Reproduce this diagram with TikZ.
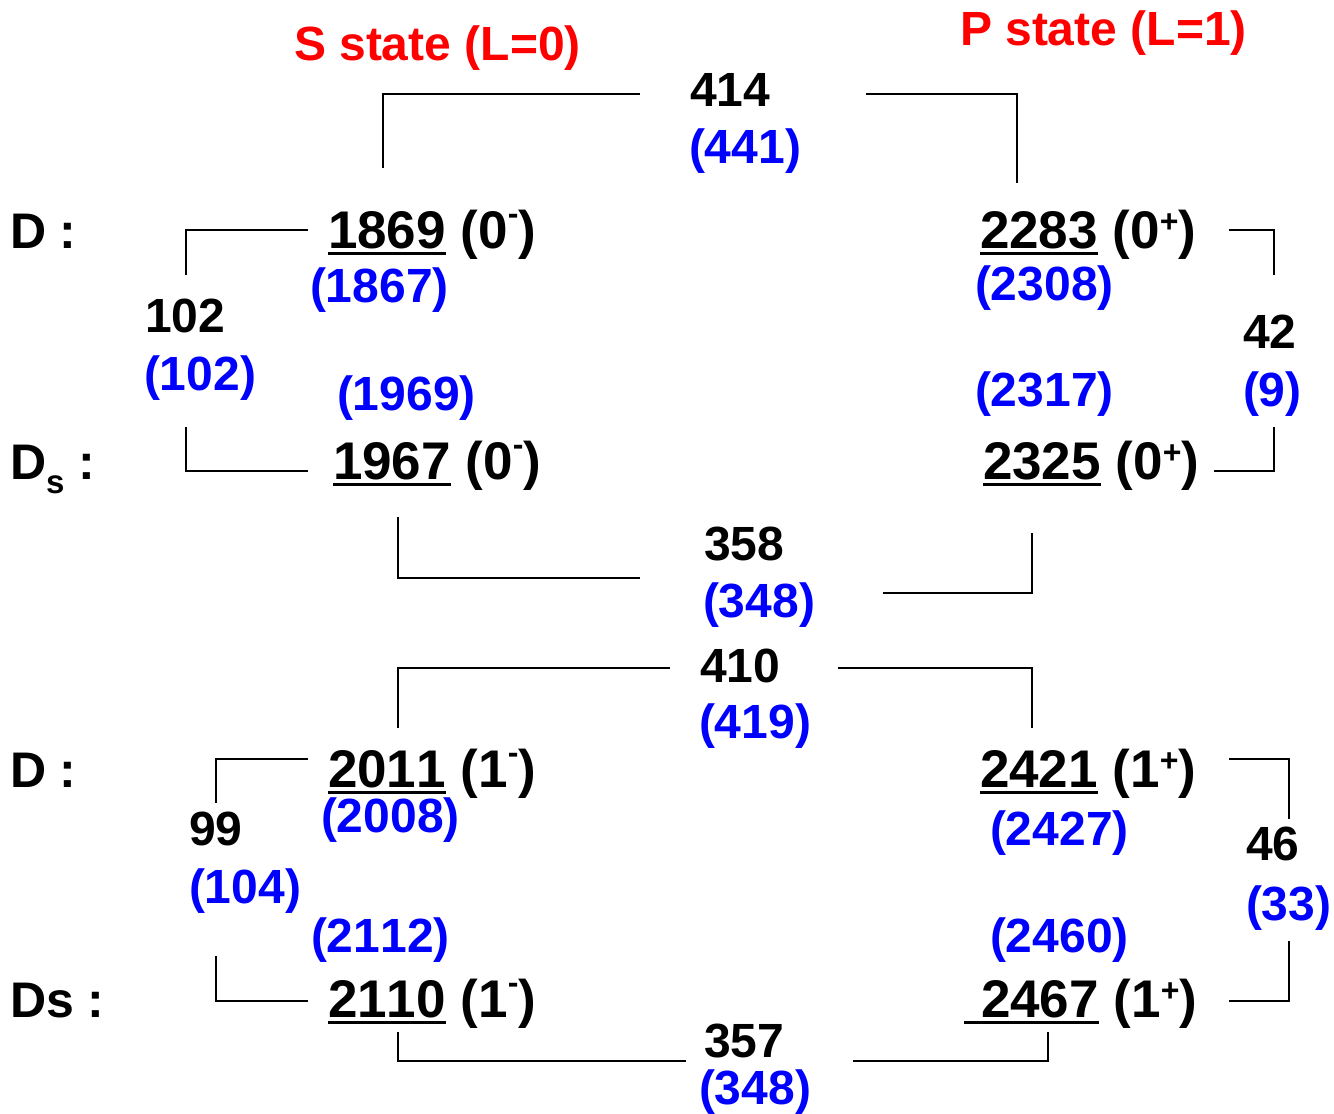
\documentclass[tikz,border=0pt]{standalone}
\usepackage{fontspec}
\setmainfont{Liberation Sans}[Kerning=Off]
\definecolor{myblue}{RGB}{0,0,255}
\definecolor{myred}{RGB}{255,0,0}
\newcommand{\supm}{\raisebox{0.44em}{\fontsize{32}{32}\selectfont -}}
\newcommand{\supp}{\raisebox{0.30em}{\fontsize{32}{32}\selectfont +}}
\newcommand{\subs}{\raisebox{-0.28em}{\fontsize{33}{33}\selectfont s}}
\begin{document}
\begin{tikzpicture}[x=1pt,y=-1pt,
  txt/.style={inner sep=0pt,outer sep=0pt,anchor=base west,font=\bfseries\fontsize{48}{48}\selectfont},
  big/.style={txt,font=\bfseries\fontsize{53}{53}\selectfont},
  lab/.style={txt,font=\bfseries\fontsize{50}{50}\selectfont},
  bl/.style={txt,text=myblue},
  rd/.style={txt,text=myred},
  conn/.style={line width=2.5pt,line join=miter},
  ul/.style={line width=3pt}]
\useasboundingbox (0,0) rectangle (1334,1114);
% headings
\node[rd] (hS) at (294,60) {S state (L=0)};
\node[rd] (hP) at (960,45) {P state (L=1)};
% row labels
\node[lab] (lD0) at (10,248) {D :};
\node[lab] (lDs0) at (10,479) {D\subs{} :};
\node[lab] (lD1) at (10,787) {D :};
\node[lab] (lDs1) at (10,1017) {Ds :};
% S-wave pseudoscalars
\node[big] (n1869) at (328,248) {1869};
\node[big] (j1869) at (n1869.base east) {\ (0\supm)};
\node[bl] (b1867) at (310,302) {(1867)};
\node[bl] (b1969) at (337,410) {(1969)};
\node[big] (n1967) at (333,479) {1967};
\node[big] (j1967) at (n1967.base east) {\ (0\supm)};
\node[txt] (m102) at (145,332) {102};
\node[bl] (b102) at (144,390) {(102)};
% P-wave scalars
\node[big] (n2283) at (980,248) {2283};
\node[big] (j2283) at (n2283.base east) {\ (0\supp)};
\node[bl] (b2308) at (975,300) {(2308)};
\node[bl] (b2317) at (975,406) {(2317)};
\node[big] (n2325) at (983,479) {2325};
\node[big] (j2325) at (n2325.base east) {\ (0\supp)};
\node[txt] (m42) at (1243,348) {42};
\node[bl] (b9) at (1243,406) {(9)};
% top splitting
\node[txt] (m414) at (690,106) {414};
\node[bl] (b441) at (689,163) {(441)};
\node[txt] (m358) at (704,560) {358};
\node[bl] (b348a) at (703,617) {(348)};
% vectors
\node[txt] (m410) at (700,682) {410};
\node[bl] (b419) at (699,738) {(419)};
\node[big] (n2011) at (328,787) {2011};
\node[big] (j2011) at (n2011.base east) {\ (1\supm)};
\node[bl] (b2008) at (321,832) {(2008)};
\node[txt] (m99) at (189,845) {99};
\node[bl] (b104) at (189,903) {(104)};
\node[bl] (b2112) at (311,952) {(2112)};
\node[big] (n2110) at (328,1017) {2110};
\node[big] (j2110) at (n2110.base east) {\ (1\supm)};
% axial
\node[big] (n2421) at (980,787) {2421};
\node[big] (j2421) at (n2421.base east) {\ (1\supp)};
\node[bl] (b2427) at (990,845) {(2427)};
\node[txt] (m46) at (1246,860) {46};
\node[bl] (b33) at (1246,920) {(33)};
\node[bl] (b2460) at (990,952) {(2460)};
\node[big] (n2467) at (981,1017) {2467};
\node[big] (j2467) at (n2467.base east) {\ (1\supp)};
\node[txt] (m357) at (704,1057) {357};
\node[bl] (b348b) at (699,1104) {(348)};
% underlines
\draw[ul] ([yshift=-5pt]n1869.base west) -- ([yshift=-5pt]n1869.base east);
\draw[ul] ([yshift=-5pt]n1967.base west) -- ([yshift=-5pt]n1967.base east);
\draw[ul] ([yshift=-5pt]n2283.base west) -- ([yshift=-5pt]n2283.base east);
\draw[ul] ([yshift=-5pt]n2325.base west) -- ([yshift=-5pt]n2325.base east);
\draw[ul] ([yshift=-5pt]n2011.base west) -- ([yshift=-5pt]n2011.base east);
\draw[ul] ([yshift=-5pt]n2110.base west) -- ([yshift=-5pt]n2110.base east);
\draw[ul] ([yshift=-5pt]n2421.base west) -- ([yshift=-5pt]n2421.base east);
\draw[ul] ([yshift=-5pt,xshift=-17pt]n2467.base west) -- ([yshift=-5pt]n2467.base east);
% bracket coordinates
\coordinate (t1) at (383,168); \coordinate (t2) at (640,94);
\coordinate (t3) at (866,94);  \coordinate (t4) at (1017,183);
\coordinate (l1) at (308,230); \coordinate (l2) at (186,275);
\coordinate (l3) at (186,427); \coordinate (l4) at (308,471);
\coordinate (r1) at (1229,230); \coordinate (r2) at (1274,275);
\coordinate (r3) at (1274,427); \coordinate (r4) at (1214,471);
\coordinate (c1) at (398,517); \coordinate (c2) at (640,578);
\coordinate (c3) at (883,593); \coordinate (c4) at (1032,533);
\coordinate (v1) at (398,728); \coordinate (v2) at (670,668);
\coordinate (v3) at (838,668); \coordinate (v4) at (1032,728);
\coordinate (p1) at (308,759); \coordinate (p2) at (216,803);
\coordinate (p3) at (216,956); \coordinate (p4) at (308,1001);
\coordinate (q1) at (1229,759); \coordinate (q2) at (1289,819);
\coordinate (q3) at (1289,941); \coordinate (q4) at (1229,1001);
\coordinate (w1) at (398,1032); \coordinate (w2) at (686,1061);
\coordinate (w3) at (853,1061); \coordinate (w4) at (1048,1032);
\draw[conn] (t1) |- (t2);
\draw[conn] (t3) -| (t4);
\draw[conn] (l1) -| (l2);
\draw[conn] (l3) |- (l4);
\draw[conn] (r1) -| (r2);
\draw[conn] (r3) |- (r4);
\draw[conn] (c1) |- (c2);
\draw[conn] (c3) -| (c4);
\draw[conn] (v1) |- (v2);
\draw[conn] (v3) -| (v4);
\draw[conn] (p1) -| (p2);
\draw[conn] (p3) |- (p4);
\draw[conn] (q1) -| (q2);
\draw[conn] (q3) |- (q4);
\draw[conn] (w1) |- (w2);
\draw[conn] (w3) -| (w4);
\end{tikzpicture}
\end{document}
